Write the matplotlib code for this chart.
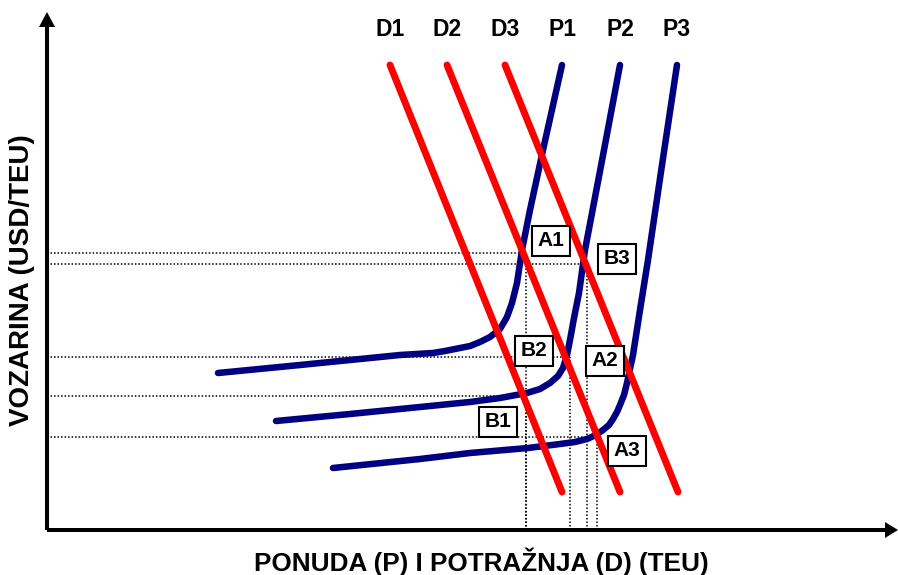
import matplotlib
matplotlib.use("Agg")
import matplotlib.pyplot as plt
from matplotlib.patches import Rectangle

plt.rcParams['font.family'] = ['Liberation Sans', 'DejaVu Sans']

# ---- data (quantity q, price p) ----
demand_names = ['D1', 'D2', 'D3']
demand_q_top = [343, 400, 458]
demand_p_top = [465, 465, 465]
demand_q_bot = [515, 573, 631]
demand_p_bot = [38, 38, 38]

supply_names = ['P1', 'P2', 'P3']
p1_q = [171, 253, 353, 386, 398, 408, 423, 433, 443, 453, 460, 465, 470, 475, 483, 496, 515]
p1_p = [157, 165, 175, 177, 179, 181, 184, 188, 193, 201, 213, 227, 247, 280, 320, 380, 465]
p2_q = [229, 303, 373, 423, 453, 480, 493, 503, 511, 516, 520, 523, 527, 532, 538, 557, 573]
p2_p = [109, 116, 123, 128, 132, 137, 141, 147, 154, 162, 175, 190, 212, 237, 280, 380, 465]
p3_q = [286, 373, 423, 481, 513, 528, 540, 549, 556, 562, 566, 570, 573, 577, 580, 586, 593, 601, 615, 630]
p3_p = [62, 71, 77, 82, 86, 88, 91, 95, 100, 105, 111, 118, 125, 135, 147, 175, 220, 270, 365, 465]
supply_q = [p1_q, p2_q, p3_q]
supply_p = [p1_p, p2_p, p3_p]

# equilibrium points marked with dotted guide lines
eq_q = [479, 540, 523, 479, 550]
eq_p = [277, 266, 173, 134, 93]

# point labels
point_labels = ['A1', 'B3', 'B2', 'A2', 'B1', 'A3']
label_q = [504, 570, 486.5, 558, 451, 579.5]
label_p = [289, 271, 179, 169.5, 108.5, 79]

x_title = 'PONUDA (P) I POTRAŽNJA (D) (TEU)'
y_title = 'VOZARINA (USD/TEU)'

# ---- figure ----
fig = plt.figure(figsize=(8.98, 5.75), dpi=100)
ax = fig.add_axes([0, 0, 1, 1])
ax.set_xlim(-47, 851)
ax.set_ylim(-45, 530)
ax.axis('off')

# dotted guides
for q, p in zip(eq_q, eq_p):
    ax.plot([0, q], [p, p], color='black', lw=1.1, ls=(0, (1, 1.3)), zorder=1)
    ax.plot([q, q], [0, p], color='black', lw=1.1, ls=(0, (1, 1.3)), zorder=1)

# supply curves
for qs, ps in zip(supply_q, supply_p):
    ax.plot(qs, ps, color='#000080', lw=4.7, solid_capstyle='round',
            solid_joinstyle='round', zorder=3)

# demand lines
for q0, p0, q1, p1 in zip(demand_q_top, demand_p_top, demand_q_bot, demand_p_bot):
    ax.plot([q0, q1], [p0, p1], color='#ff0000', lw=5, solid_capstyle='round', zorder=4)

# curve names above
for name, q in zip(demand_names, demand_q_top):
    ax.text(q, 500, name, ha='center', va='center', fontsize=16.5, fontweight='bold')
for name, qs in zip(supply_names, supply_q):
    ax.text(qs[-1], 500, name, ha='center', va='center', fontsize=16.5, fontweight='bold')

# boxed point labels
bw, bh = 38, 30
for name, q, p in zip(point_labels, label_q, label_p):
    ax.add_patch(Rectangle((q - bw / 2, p - bh / 2), bw, bh, facecolor='white',
                           edgecolor='black', lw=1.5, zorder=5))
    ax.text(q, p, name, ha='center', va='center', fontsize=15, fontweight='bold', zorder=6)

# axes with arrows
ax.arrow(0, 0, 0, 518, width=4, head_width=16, head_length=15,
         length_includes_head=True, fc='black', ec='black', lw=0, zorder=7)
ax.arrow(0, 0, 851, 0, width=4, head_width=16, head_length=13,
         length_includes_head=True, fc='black', ec='black', lw=0, zorder=7)

ax.text(434.5, -32, x_title, ha='center', va='center', fontsize=18.8, fontweight='bold')
ax.text(-25, 250, y_title, ha='center', va='center', rotation=90,
        fontsize=20, fontweight='bold')

fig.savefig('out.png', dpi=100)
